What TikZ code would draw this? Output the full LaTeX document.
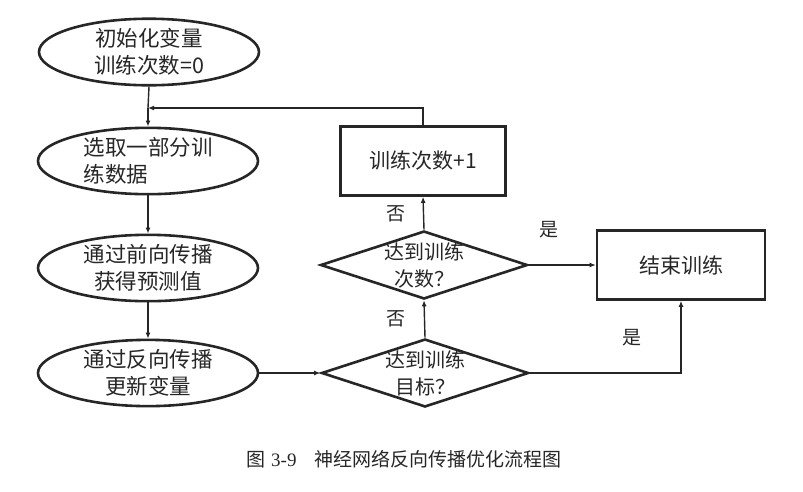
\documentclass[tikz,border=0pt]{standalone}
\usepackage{fontspec}
\newfontfamily\cjk{Noto Sans CJK SC}
\newfontfamily\cjkserif{Liberation Serif}
\usetikzlibrary{shapes.geometric,arrows.meta}
\begin{document}
\begin{tikzpicture}[x=1pt,y=-1pt,
  every node/.style={font=\cjk, text=black!85},
  oval/.style={draw=black!85, line width=2.6pt, ellipse, inner sep=0pt, minimum width=220pt, minimum height=64pt, font=\cjk\fontsize{21.5}{27}\selectfont, align=center},
  rbox/.style={draw=black!85, line width=2.6pt, rectangle, inner sep=0pt, minimum width=165pt, minimum height=69pt, font=\cjk\fontsize{21}{24}\selectfont},
  dia/.style={draw=black!85, line width=2.6pt, diamond, inner sep=0pt, minimum width=207pt, minimum height=68pt},
  diatext/.style={font=\cjk\fontsize{20}{27}\selectfont, align=center, inner sep=0pt},
  conn/.style={draw=black!85, line width=1.4pt, -{Latex[length=6pt,width=5pt]}},
  plain/.style={draw=black!85, line width=1.4pt},
  lbl/.style={font=\cjk\fontsize{19}{21}\selectfont}]
\useasboundingbox (0,0) rectangle (803,491);
\node[oval] (e1) at (149,52) {初始化变量\\训练次数=0};
\node[oval, align=left] (e2) at (148,161) {选取一部分训\\练数据};
\node[oval] (e3) at (148,268) {通过前向传播\\获得预测值};
\node[oval] (e4) at (148,373) {通过反向传播\\更新变量};
\node[rbox] (b1) at (423,161) {训练次数+1};
\node[rbox, minimum width=168pt] (b2) at (681,265) {结束训练};
\node[dia] (d1) at (424,265) {};
\node[diatext] (t1) at (d1.center) {达到训练\\次数？};
\node[dia] (d2) at (425,373) {};
\node[diatext] (t2) at (d2.center) {达到训练\\目标？};
\coordinate (j1) at (148,108);
\coordinate (c1) at (423,108);
\coordinate (c2) at (681,373);
\draw[plain] (e1.south) -- (j1);
\draw[conn] (j1) -- (e2.north);
\draw[conn] (e2.south) -- (e3.north);
\draw[conn] (e3.south) -- (e4.north);
\draw[conn] (e4.east) -- (d2.west);
\draw[conn] (d2.north) -- (d1.south);
\draw[conn] (d1.north) -- (b1.south);
\draw[conn] (d1.east) -- (b2.west);
\draw[conn] (d2.east) -- (c2) -- (b2.south);
\draw[conn] (b1.north) -- (c1) -- (j1);
\node[lbl] (n1) at (396,214) {否};
\node[lbl] (n2) at (396,319) {否};
\node[lbl] (y1) at (549,230) {是};
\node[lbl] (y2) at (632,338) {是};
\node[font=\fontsize{19}{21}\selectfont] (cap) at (404,459) {{\cjk 图} {\cjkserif 3-9}\hspace{18pt}{\cjk 神经网络反向传播优化流程图}};
\end{tikzpicture}
\end{document}
